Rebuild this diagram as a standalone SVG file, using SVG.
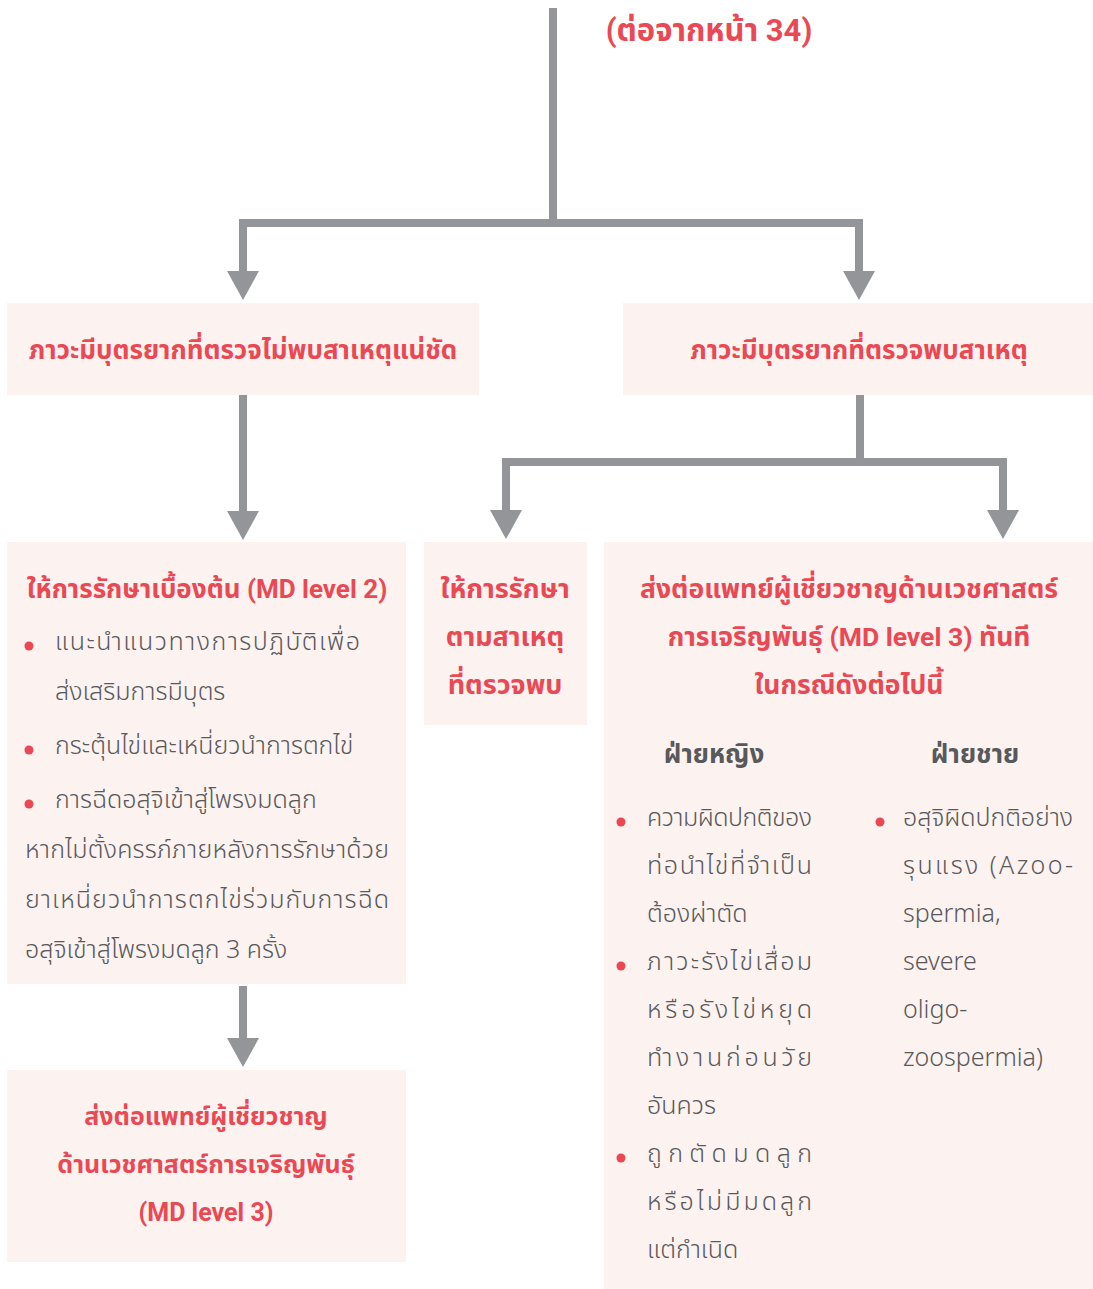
<svg xmlns="http://www.w3.org/2000/svg" width="1093" height="1289" viewBox="0 0 1093 1289">
<defs>
<marker id="ah" viewBox="0 0 29 32" markerWidth="29" markerHeight="32" refX="0" refY="16" orient="auto-start-reverse" markerUnits="userSpaceOnUse">
<path d="M0,0 L29,16 L0,32 Z" fill="#939598"/>
</marker>
<style>
.box{fill:#FCF2F0}
.conn{fill:none;stroke:#939598;stroke-width:8;stroke-linejoin:miter}
.rt{font-family:Roboto,"Noto Sans Thai","Noto Sans",sans-serif;font-weight:700;fill:#EA4853;text-anchor:middle;font-size:26px}
.bt{font-family:"Noto Sans Thai","Noto Sans",sans-serif;font-weight:300;fill:#58595B;font-size:25px}
.hd{font-family:"Noto Sans Thai","Noto Sans",sans-serif;font-weight:700;fill:#58595B;font-size:26px;text-anchor:middle}
.dot{fill:#EA4853}
</style>
</defs>
<rect width="1093" height="1289" fill="#FFFFFF"/>
<g id="connectors">
<path class="conn" d="M553,8 V223"/>
<path class="conn" d="M243,271 V223 H859 V271" marker-start="url(#ah)" marker-end="url(#ah)"/>
<path class="conn" d="M860,395 V462"/>
<path class="conn" d="M506,510 V462 H1003 V510" marker-start="url(#ah)" marker-end="url(#ah)"/>
<path class="conn" d="M243,395 V511" marker-end="url(#ah)"/>
<path class="conn" d="M243,986 V1038" marker-end="url(#ah)"/>
</g>
<g id="continued">
<text class="rt" x="709" y="41" style="font-size:31px">(ต่อจากหน้า 34)</text>
</g>
<g id="node-unexplained">
<rect class="box" x="7" y="303" width="472" height="92"/>
<text class="rt" x="243" y="359">ภาวะมีบุตรยากที่ตรวจไม่พบสาเหตุแน่ชัด</text>
</g>
<g id="node-explained">
<rect class="box" x="623" y="303" width="470" height="92"/>
<text class="rt" x="859" y="359">ภาวะมีบุตรยากที่ตรวจพบสาเหตุ</text>
</g>
<g id="node-initial-treatment">
<rect class="box" x="7" y="542" width="399" height="442"/>
<text class="rt" x="207" y="598">ให้การรักษาเบื้องต้น (MD level 2)</text>
<circle class="dot" cx="29" cy="646" r="4.5"/>
<text class="bt" x="55" y="650" textLength="305">แนะนำแนวทางการปฏิบัติเพื่อ</text>
<text class="bt" x="55" y="700">ส่งเสริมการมีบุตร</text>
<circle class="dot" cx="29" cy="750" r="4.5"/>
<text class="bt" x="55" y="754">กระตุ้นไข่และเหนี่ยวนำการตกไข่</text>
<circle class="dot" cx="29" cy="804" r="4.5"/>
<text class="bt" x="55" y="808">การฉีดอสุจิเข้าสู่โพรงมดลูก</text>
<text class="bt" x="25" y="858" textLength="364">หากไม่ตั้งครรภ์ภายหลังการรักษาด้วย</text>
<text class="bt" x="25" y="908" textLength="364">ยาเหนี่ยวนำการตกไข่ร่วมกับการฉีด</text>
<text class="bt" x="25" y="958">อสุจิเข้าสู่โพรงมดลูก 3 ครั้ง</text>
</g>
<g id="node-treat-cause">
<rect class="box" x="424" y="542" width="163" height="183"/>
<text class="rt" x="505" y="598" style="font-size:27px">ให้การรักษา</text>
<text class="rt" x="505" y="646" style="font-size:27px">ตามสาเหตุ</text>
<text class="rt" x="505" y="694" style="font-size:27px">ที่ตรวจพบ</text>
</g>
<g id="node-refer-immediate">
<rect class="box" x="604" y="542" width="489" height="747"/>
<text class="rt" x="849" y="598" style="font-size:26.5px">ส่งต่อแพทย์ผู้เชี่ยวชาญด้านเวชศาสตร์</text>
<text class="rt" x="849" y="646" style="font-size:26.5px">การเจริญพันธุ์ (MD level 3) ทันที</text>
<text class="rt" x="849" y="694" style="font-size:26.5px">ในกรณีดังต่อไปนี้</text>
<text class="hd" x="714" y="763">ฝ่ายหญิง</text>
<text class="hd" x="975" y="763">ฝ่ายชาย</text>
<circle class="dot" cx="621" cy="822" r="4.5"/>
<text class="bt" x="647" y="826" textLength="165">ความผิดปกติของ</text>
<text class="bt" x="647" y="874" textLength="165">ท่อนำไข่ที่จำเป็น</text>
<text class="bt" x="647" y="922">ต้องผ่าตัด</text>
<circle class="dot" cx="621" cy="966" r="4.5"/>
<text class="bt" x="647" y="970" textLength="165">ภาวะรังไข่เสื่อม</text>
<text class="bt" x="647" y="1018" textLength="165">หรือรังไข่หยุด</text>
<text class="bt" x="647" y="1066" textLength="165">ทำงานก่อนวัย</text>
<text class="bt" x="647" y="1114">อันควร</text>
<circle class="dot" cx="621" cy="1158" r="4.5"/>
<text class="bt" x="647" y="1162" textLength="165">ถูกตัดมดลูก</text>
<text class="bt" x="647" y="1210" textLength="165">หรือไม่มีมดลูก</text>
<text class="bt" x="647" y="1258">แต่กำเนิด</text>
<circle class="dot" cx="880" cy="822" r="4.5"/>
<text class="bt" x="903" y="826" textLength="170">อสุจิผิดปกติอย่าง</text>
<text class="bt" x="903" y="874" textLength="170">รุนแรง (Azoo-</text>
<text class="bt" x="903" y="922">spermia,</text>
<text class="bt" x="903" y="970">severe</text>
<text class="bt" x="903" y="1018">oligo-</text>
<text class="bt" x="903" y="1066">zoospermia)</text>
</g>
<g id="node-refer-specialist">
<rect class="box" x="7" y="1070" width="399" height="192"/>
<text class="rt" x="206" y="1125" style="font-size:25px">ส่งต่อแพทย์ผู้เชี่ยวชาญ</text>
<text class="rt" x="206" y="1173" style="font-size:25px">ด้านเวชศาสตร์การเจริญพันธุ์</text>
<text class="rt" x="206" y="1221" style="font-size:25px">(MD level 3)</text>
</g>
</svg>
